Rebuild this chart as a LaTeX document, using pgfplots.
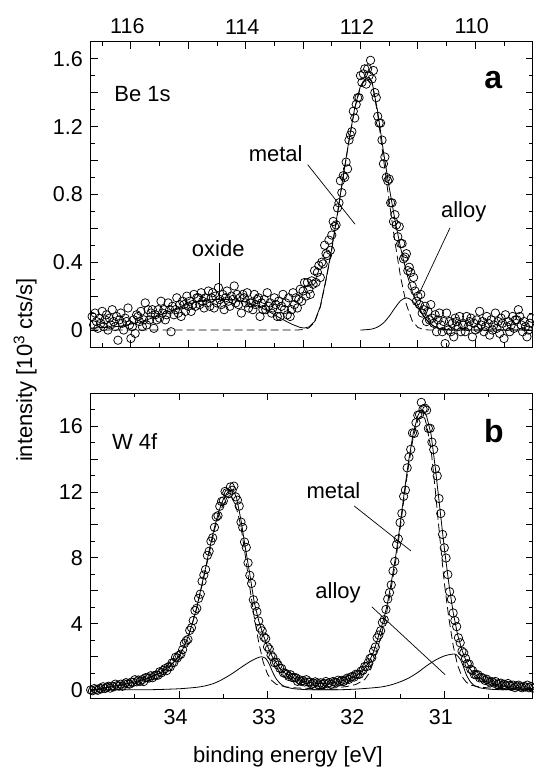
\documentclass[border=0pt]{standalone}
\usepackage{pgfplots}
\pgfplotsset{compat=1.18}
\usepackage{fontspec}
\setmainfont{Liberation Sans}
\begin{document}
\begin{tikzpicture}
\pgfplotsset{
  myax/.style={
    scale only axis, width=442pt,
    axis line style={line width=0.9pt},
    tick style={line width=0.8pt, black},
    major tick length=7pt, minor tick length=4pt,
    tick align=inside,
    xtick pos=both, ytick pos=both,
    tick label style={font=\fontsize{21.5}{24}\selectfont},
    /pgf/number format/assume math mode=true,
    clip=false,
    x dir=reverse,
    yticklabel style={xshift=-4.4pt},
  },
  pts/.style={only marks, mark=o, mark size=4.2pt, mark options={line width=0.75pt, black}},
  fitsolid/.style={black, line width=0.8pt, no marks},
  fitdash/.style={black, line width=0.8pt, no marks, dash pattern=on 8pt off 4pt},
}
% ---------------- top panel -----------------
\begin{axis}[myax, at={(90.7pt,424pt)}, anchor=south west, height=305.3pt,
  xmin=109, xmax=116.7, ymin=-0.1, ymax=1.7,
  xtick={109,110,111,112,113,114,115,116}, xticklabels={,110,,112,,114,,116},
  minor xtick={109.5,110.5,111.5,112.5,113.5,114.5,115.5,116.5},
  xticklabel pos=right, xticklabel style={yshift=4pt, xshift=-3.5pt},
  ytick={0,0.2,0.4,0.6,0.8,1,1.2,1.4,1.6}, yticklabels={0,,0.4,,0.8,,1.2,,1.6},
  minor ytick={0.1,0.3,0.5,0.7,0.9,1.1,1.3,1.5},
]
\addplot[pts] coordinates {
(116.675,0.08)(116.650,0.03)(116.625,0.10)(116.600,0.05)(116.575,0.01)(116.550,0.07)(116.525,0.04)(116.500,0.11)
(116.475,0.02)(116.450,0.06)(116.425,0.09)(116.400,0.00)(116.375,0.07)(116.350,0.03)(116.325,0.12)(116.300,0.05)
(116.275,0.02)(116.250,0.08)(116.225,-0.06)(116.200,0.06)(116.175,0.10)(116.150,0.04)(116.125,0.00)(116.100,0.07)
(116.075,0.05)(116.050,0.13)(116.025,0.03)(116.000,-0.05)(115.975,0.02)(115.950,0.06)(115.925,-0.02)(115.900,0.09)
(115.875,0.08)(115.850,0.05)(115.825,0.11)(115.800,0.02)(115.775,0.06)(115.750,0.16)(115.725,0.03)(115.700,0.12)
(115.675,0.06)(115.650,0.10)(115.625,0.12)(115.600,0.01)(115.575,0.09)(115.550,0.06)(115.525,0.12)(115.500,0.07)
(115.475,0.17)(115.450,0.10)(115.425,0.12)(115.400,0.06)(115.375,0.09)(115.350,0.16)(115.325,0.12)(115.300,-0.01)
(115.275,0.14)(115.250,0.09)(115.225,0.12)(115.200,0.19)(115.175,0.10)(115.150,0.15)(115.125,0.08)(115.100,0.17)
(115.075,0.15)(115.050,0.11)(115.025,0.20)(115.000,0.14)(114.975,0.17)(114.950,0.11)(114.925,0.15)(114.900,0.21)
(114.875,0.14)(114.850,0.19)(114.825,0.19)(114.800,0.15)(114.775,0.22)(114.750,0.17)(114.725,0.13)(114.700,0.19)
(114.675,0.16)(114.650,0.23)(114.625,0.14)(114.600,0.19)(114.575,0.22)(114.550,0.13)(114.525,0.20)(114.500,0.16)
(114.475,0.25)(114.450,0.18)(114.425,0.15)(114.400,0.21)(114.375,0.12)(114.350,0.19)(114.325,0.23)(114.300,0.17)
(114.275,0.14)(114.250,0.20)(114.225,0.18)(114.200,0.26)(114.175,0.16)(114.150,0.21)(114.125,0.15)(114.100,0.19)
(114.075,0.10)(114.050,0.21)(114.025,0.19)(114.000,0.16)(113.975,0.22)(113.950,0.13)(113.925,0.16)(113.900,0.16)
(113.875,0.12)(113.850,0.21)(113.825,0.15)(113.800,0.18)(113.775,0.19)(113.750,0.08)(113.725,0.16)(113.700,0.12)
(113.675,0.18)(113.650,0.12)(113.625,0.22)(113.600,0.14)(113.575,0.16)(113.550,0.10)(113.525,0.13)(113.500,0.19)
(113.475,0.15)(113.450,0.08)(113.425,0.17)(113.400,0.08)(113.375,0.14)(113.350,0.21)(113.325,0.12)(113.300,0.16)
(113.275,0.09)(113.250,0.19)(113.225,0.08)(113.200,0.12)(113.175,0.22)(113.150,0.15)(113.125,0.19)(113.100,0.13)
(113.075,0.18)(113.050,0.24)(113.025,0.17)(113.000,0.23)(112.975,0.28)(112.950,0.20)(112.925,0.28)(112.900,0.24)
(112.875,0.21)(112.850,0.29)(112.825,0.27)(112.800,0.35)(112.775,0.28)(112.750,0.34)(112.725,0.38)(112.700,0.31)
(112.675,0.40)(112.650,0.39)(112.625,0.50)(112.600,0.45)(112.575,0.44)(112.550,0.53)(112.525,0.47)(112.500,0.56)
(112.475,0.64)(112.450,0.61)(112.425,0.62)(112.400,0.72)(112.375,0.75)(112.350,0.88)(112.325,0.81)(112.300,0.91)
(112.275,0.90)(112.250,0.99)(112.225,0.95)(112.200,1.12)(112.175,1.15)(112.150,1.17)(112.125,1.29)(112.100,1.25)
(112.075,1.33)(112.050,1.37)(112.025,1.37)(112.000,1.50)(111.975,1.46)(111.950,1.51)(111.925,1.54)(111.900,1.45)
(111.875,1.54)(111.850,1.50)(111.825,1.59)(111.800,1.48)(111.775,1.53)(111.750,1.40)(111.725,1.37)(111.700,1.26)
(111.675,1.22)(111.650,1.22)(111.625,1.12)(111.600,0.98)(111.575,1.02)(111.550,0.90)(111.525,0.88)(111.500,0.89)
(111.475,0.75)(111.450,0.75)(111.425,0.64)(111.400,0.68)(111.375,0.62)(111.350,0.55)(111.325,0.61)(111.300,0.51)
(111.275,0.51)(111.250,0.42)(111.225,0.43)(111.200,0.45)(111.175,0.35)(111.150,0.37)(111.125,0.34)(111.100,0.26)
(111.075,0.31)(111.050,0.23)(111.025,0.17)(111.000,0.20)(110.975,0.15)(110.950,0.21)(110.925,0.10)(110.900,0.12)
(110.875,0.14)(110.850,0.05)(110.825,0.11)(110.800,0.06)(110.775,0.15)(110.750,0.07)(110.725,0.04)(110.700,0.09)
(110.675,-0.01)(110.650,0.06)(110.625,0.10)(110.600,0.03)(110.575,-0.01)(110.550,0.05)(110.525,-0.08)(110.500,0.10)
(110.475,0.00)(110.450,0.05)(110.425,-0.01)(110.400,0.04)(110.375,-0.04)(110.350,0.07)(110.325,0.05)(110.300,0.02)
(110.275,0.08)(110.250,-0.01)(110.225,0.03)(110.200,0.03)(110.175,-0.01)(110.150,0.08)(110.125,0.02)(110.100,0.05)
(110.075,0.07)(110.050,-0.04)(110.025,0.04)(110.000,0.00)(109.975,0.06)(109.950,0.01)(109.925,0.11)(109.900,0.03)
(109.875,0.05)(109.850,-0.01)(109.825,0.02)(109.800,0.08)(109.775,0.04)(109.750,-0.03)(109.725,0.06)(109.700,0.00)
(109.675,0.03)(109.650,0.10)(109.625,0.01)(109.600,0.05)(109.575,-0.02)(109.550,0.07)(109.525,0.04)(109.500,-0.05)
(109.475,0.09)(109.450,0.02)(109.425,0.05)(109.400,-0.01)(109.375,0.03)(109.350,0.08)(109.325,0.01)(109.300,0.06)
(109.275,0.06)(109.250,0.12)(109.225,0.08)(109.200,0.03)(109.175,-0.01)(109.150,0.05)(109.125,0.02)(109.100,-0.04)
(109.075,0.00)(109.050,0.04)(109.025,0.07)
};
% metal component (dashed, incl. zero baseline)
\addplot[fitdash] coordinates {
(116.7,0)(113.1,0)(113.0,0.003)(112.9,0.012)(112.8,0.045)(112.7,0.135)(112.6,0.295)(112.5,0.475)(112.4,0.685)
(112.3,0.905)(112.2,1.115)(112.1,1.305)(112.0,1.435)(111.9,1.483)(111.85,1.485)(111.8,1.46)(111.7,1.27)(111.6,1.01)
(111.5,0.76)(111.4,0.52)(111.3,0.31)(111.2,0.15)(111.1,0.055)(111.0,0.015)(110.9,0.003)(110.8,0)(109.0,0)
};
% total fit incl. oxide (solid)
\addplot[fitsolid] coordinates {
(116.7,0.012)(116.4,0.016)(116.2,0.022)(116.0,0.035)(115.8,0.052)(115.6,0.074)(115.4,0.100)(115.2,0.128)
(115.0,0.153)(114.8,0.170)(114.6,0.179)(114.45,0.181)(114.3,0.180)(114.15,0.175)(114.0,0.166)(113.8,0.143)
(113.6,0.110)(113.4,0.070)(113.2,0.035)(113.05,0.015)(112.98,0.012)(112.9,0.018)(112.8,0.05)(112.7,0.14)
(112.6,0.30)(112.5,0.48)(112.4,0.69)(112.3,0.91)(112.2,1.12)(112.1,1.31)(112.0,1.44)(111.9,1.485)(111.85,1.49)
(111.8,1.466)(111.7,1.288)(111.6,1.052)(111.5,0.841)(111.4,0.65)(111.3,0.483)(111.2,0.34)(111.1,0.228)
(111.0,0.145)(110.9,0.084)(110.8,0.042)(110.7,0.018)(110.6,0.006)(110.5,0.002)(110.4,0)(109.0,0)
};
% alloy component
\addplot[fitsolid, smooth] coordinates {
(112.0,0)(111.9,0.002)(111.8,0.006)(111.7,0.018)(111.6,0.042)(111.5,0.081)(111.4,0.13)(111.3,0.173)(111.2,0.19)
(111.1,0.173)(111.0,0.13)(110.9,0.081)(110.8,0.042)(110.7,0.018)(110.6,0.006)(110.5,0.002)(110.4,0)
};
\draw[line width=0.7pt] (axis cs:112.92,0.975) -- (axis cs:112.095,0.624);
\draw[line width=0.7pt] (axis cs:114.46,0.394) -- (axis cs:114.46,0.177);
\draw[line width=0.7pt] (axis cs:110.44,0.603) -- (axis cs:110.98,0.213);
\node[anchor=base west, font=\fontsize{22}{26}\selectfont, inner sep=0pt] at (axis cs:113.95,0.991) {metal};
\node[anchor=base west, font=\fontsize{22}{26}\selectfont, inner sep=0pt] at (axis cs:114.94,0.433) {oxide};
\node[anchor=base west, font=\fontsize{22}{26}\selectfont, inner sep=0pt] at (axis cs:110.60,0.666) {alloy};
\node[anchor=base west, font=\fontsize{22}{26}\selectfont, inner sep=0pt] at (axis cs:116.29,1.349) {Be 1s};
\node[anchor=base east, font=\fontsize{32}{36}\selectfont\bfseries, inner sep=0pt] at (axis cs:109.53,1.423) {a};
\end{axis}
% ---------------- bottom panel -----------------
\begin{axis}[myax, at={(90.7pt,73pt)}, anchor=south west, height=305pt,
  xmin=30, xmax=35, ymin=-0.5, ymax=18,
  xtick={31,32,33,34}, minor xtick={30.5,31.5,32.5,33.5,34.5},
  xticklabel style={yshift=-8pt, xshift=-3.5pt},
  ytick={0,2,4,6,8,10,12,14,16}, yticklabels={0,,4,,8,,12,,16},
  minor ytick={1,3,5,7,9,11,13,15,17},
]
\addplot[pts] coordinates {
(35.00,-0.01)(34.98,-0.06)(34.96,0.07)(34.94,0.01)(34.92,-0.03)(34.90,0.08)(34.88,0.06)(34.86,0.18)(34.84,0.07)
(34.82,0.15)(34.80,0.21)(34.78,0.10)(34.76,0.22)(34.74,0.18)(34.72,0.34)(34.70,0.25)(34.68,0.22)(34.66,0.34)
(34.64,0.21)(34.62,0.35)(34.60,0.43)(34.58,0.36)(34.56,0.34)(34.54,0.46)(34.52,0.45)(34.50,0.61)(34.48,0.48)
(34.46,0.59)(34.44,0.51)(34.42,0.61)(34.40,0.50)(34.38,0.73)(34.36,0.73)(34.34,0.71)(34.32,0.85)(34.30,0.73)
(34.28,0.85)(34.26,0.90)(34.24,0.88)(34.22,1.09)(34.20,1.03)(34.18,1.17)(34.16,1.28)(34.14,1.16)(34.12,1.39)
(34.10,1.39)(34.08,1.63)(34.06,1.65)(34.04,1.97)(34.02,1.93)(34.00,2.09)(33.98,2.16)(33.96,2.43)(33.94,2.80)
(33.92,2.96)(33.90,3.05)(33.88,3.60)(33.86,3.76)(33.84,4.20)(33.82,4.80)(33.80,4.94)(33.78,5.54)(33.76,5.80)
(33.74,6.58)(33.72,6.96)(33.70,7.29)(33.68,8.15)(33.66,8.40)(33.64,9.01)(33.62,9.22)(33.60,9.85)(33.58,10.48)
(33.56,10.56)(33.54,11.13)(33.52,11.42)(33.50,11.45)(33.48,12.03)(33.46,11.95)(33.44,11.90)(33.42,12.30)
(33.40,12.10)(33.38,12.35)(33.36,11.70)(33.34,11.50)(33.32,11.14)(33.30,10.17)(33.28,9.84)(33.26,8.96)
(33.24,8.63)(33.22,7.70)(33.20,6.94)(33.18,6.45)(33.16,5.46)(33.14,5.08)(33.12,4.74)(33.10,4.17)(33.08,3.74)
(33.06,3.57)(33.04,3.20)(33.02,3.11)(33.00,2.60)(32.98,2.47)(32.96,2.10)(32.94,1.98)(32.92,1.64)(32.90,1.68)
(32.88,1.50)(32.86,1.30)(32.84,1.29)(32.82,1.03)(32.80,1.00)(32.78,0.94)(32.76,0.81)(32.74,0.91)(32.72,0.74)
(32.70,0.73)(32.68,0.73)(32.66,0.51)(32.64,0.61)(32.62,0.51)(32.60,0.57)(32.58,0.47)(32.56,0.61)(32.54,0.46)
(32.52,0.47)(32.50,0.35)(32.48,0.39)(32.46,0.48)(32.44,0.41)(32.42,0.28)(32.40,0.42)(32.38,0.33)(32.36,0.38)
(32.34,0.50)(32.32,0.36)(32.30,0.43)(32.28,0.33)(32.26,0.50)(32.24,0.46)(32.22,0.42)(32.20,0.58)(32.18,0.49)
(32.16,0.57)(32.14,0.50)(32.12,0.59)(32.10,0.70)(32.08,0.63)(32.06,0.76)(32.04,0.81)(32.02,0.77)(32.00,0.94)
(31.98,0.93)(31.96,0.94)(31.94,1.14)(31.92,1.18)(31.90,1.41)(31.88,1.40)(31.86,1.64)(31.84,1.90)(31.82,1.95)
(31.80,2.34)(31.78,2.59)(31.76,3.15)(31.74,3.32)(31.72,3.58)(31.70,4.08)(31.68,4.25)(31.66,4.87)(31.64,5.50)
(31.62,5.89)(31.60,6.36)(31.58,7.21)(31.56,7.78)(31.54,8.80)(31.52,9.15)(31.50,10.14)(31.48,10.70)(31.46,11.73)
(31.44,12.11)(31.42,13.46)(31.40,14.11)(31.38,14.58)(31.36,15.58)(31.34,15.55)(31.32,16.20)(31.30,16.65)
(31.28,16.69)(31.26,17.43)(31.24,17.03)(31.22,17.08)(31.20,16.96)(31.18,15.85)(31.16,15.86)(31.14,15.02)
(31.12,14.57)(31.10,13.39)(31.08,12.97)(31.06,11.60)(31.04,10.69)(31.02,9.42)(31.00,8.61)(30.98,7.99)(30.96,6.99)
(30.94,5.95)(30.92,5.49)(30.90,4.66)(30.88,4.20)(30.86,3.83)(30.84,3.15)(30.82,2.85)(30.80,2.34)(30.78,2.24)
(30.76,1.90)(30.74,1.58)(30.72,1.56)(30.70,1.24)(30.68,1.16)(30.66,0.93)(30.64,0.90)(30.62,0.91)(30.60,0.72)
(30.58,0.75)(30.56,0.70)(30.54,0.57)(30.52,0.64)(30.50,0.52)(30.48,0.42)(30.46,0.49)(30.44,0.41)(30.42,0.50)
(30.40,0.33)(30.38,0.38)(30.36,0.40)(30.34,0.24)(30.32,0.33)(30.30,0.25)(30.28,0.38)(30.26,0.26)(30.24,0.20)
(30.22,0.28)(30.20,0.13)(30.18,0.23)(30.16,0.28)(30.14,0.17)(30.12,0.12)(30.10,0.20)(30.08,0.17)(30.06,0.28)
(30.04,0.12)(30.02,0.20)(30.00,0.10)
};
% alloy components (solid)
\addplot[fitsolid, smooth] coordinates {
(35.0,0)(34.4,0)(34.2,0.02)(34.0,0.06)(33.9,0.10)(33.8,0.15)(33.7,0.24)(33.6,0.40)(33.5,0.66)(33.4,0.98)
(33.3,1.35)(33.2,1.70)(33.12,1.92)(33.07,2.0)(33.02,1.9)(32.98,1.55)(32.94,1.05)(32.9,0.65)(32.85,0.35)
(32.8,0.18)(32.7,0.06)(32.6,0.02)(32.5,0)(32.2,0)
};
\addplot[fitsolid, smooth] coordinates {
(32.5,0)(32.2,0)(32.0,0.04)(31.8,0.12)(31.7,0.18)(31.6,0.30)(31.5,0.48)(31.4,0.72)(31.3,1.05)(31.2,1.45)
(31.1,1.80)(31.0,2.05)(30.92,2.15)(30.87,2.15)(30.82,1.85)(30.78,1.35)(30.75,0.9)(30.7,0.45)(30.65,0.22)
(30.6,0.12)(30.5,0.04)(30.4,0.01)(30.3,0)(30.0,0)
};
% metal components (dashed)
\addplot[fitdash] coordinates {
(35.0,-0.05)(34.8,0.15)(34.6,0.35)(34.4,0.62)(34.2,1.05)(34.1,1.45)(34.0,2.0)(33.9,3.15)(33.8,4.95)(33.7,7.3)
(33.6,9.7)(33.55,10.6)(33.5,11.25)(33.45,11.6)(33.42,11.7)(33.4,11.65)(33.35,11.0)(33.3,9.9)(33.25,8.1)
(33.2,6.2)(33.15,4.4)(33.1,2.9)(33.05,1.7)(33.0,0.95)(32.95,0.55)(32.9,0.33)(32.8,0.18)(32.7,0.12)(32.6,0.09)
(32.5,0.08)(32.4,0.08)(32.3,0.09)(32.2,0.13)(32.1,0.2)(32.0,0.32)(31.9,0.62)(31.85,1.0)(31.8,1.7)(31.75,2.6)
(31.7,3.6)(31.65,4.75)(31.6,6.2)(31.55,7.8)(31.5,9.75)(31.45,11.85)(31.4,13.75)(31.35,15.35)(31.3,16.35)
(31.26,16.65)(31.22,16.45)(31.2,16.05)(31.15,14.6)(31.1,12.0)(31.05,9.2)(31.0,6.5)(30.95,4.4)(30.9,2.7)
(30.85,1.5)(30.8,0.8)(30.75,0.45)(30.7,0.28)(30.6,0.17)(30.5,0.11)(30.4,0.08)(30.2,0.05)(30.0,0.04)
};
% total fit (solid)
\addplot[fitsolid] coordinates {
(35.0,-0.05)(34.9,0.05)(34.8,0.15)(34.7,0.25)(34.6,0.35)(34.5,0.48)(34.4,0.62)(34.3,0.8)(34.2,1.05)(34.1,1.45)
(34.0,2.05)(33.95,2.55)(33.9,3.2)(33.85,4.0)(33.8,5.0)(33.75,6.2)(33.7,7.4)(33.65,8.7)(33.6,9.85)(33.55,10.85)
(33.5,11.55)(33.45,12.0)(33.42,12.1)(33.38,12.0)(33.35,11.65)(33.3,10.3)(33.25,8.6)(33.2,7.0)(33.15,5.3)
(33.1,4.2)(33.05,3.35)(33.0,2.65)(32.95,2.05)(32.9,1.6)(32.85,1.25)(32.8,1.0)(32.7,0.7)(32.6,0.52)(32.5,0.42)
(32.4,0.37)(32.3,0.4)(32.2,0.48)(32.1,0.62)(32.0,0.85)(31.95,1.05)(31.9,1.3)(31.85,1.7)(31.8,2.3)(31.75,3.15)
(31.7,4.0)(31.65,5.05)(31.6,6.5)(31.55,8.1)(31.5,10.0)(31.45,12.1)(31.4,14.0)(31.35,15.6)(31.3,16.6)
(31.27,16.95)(31.24,16.95)(31.2,16.6)(31.15,15.5)(31.1,13.4)(31.05,11.0)(31.0,8.6)(30.95,6.5)(30.9,4.7)
(30.85,3.35)(30.8,2.4)(30.75,1.7)(30.7,1.2)(30.65,0.9)(30.6,0.7)(30.5,0.45)(30.4,0.3)(30.3,0.2)(30.2,0.15)
(30.1,0.1)(30.0,0.08)
};
\draw[line width=0.7pt] (axis cs:32.02,11.15) -- (axis cs:31.377,8.42);
\draw[line width=0.7pt] (axis cs:31.82,5.03) -- (axis cs:30.99,0.91);
\node[anchor=base west, font=\fontsize{22}{26}\selectfont, inner sep=0pt] at (axis cs:32.56,11.62) {metal};
\node[anchor=base west, font=\fontsize{22}{26}\selectfont, inner sep=0pt] at (axis cs:32.46,5.52) {alloy};
\node[anchor=base west, font=\fontsize{22}{26}\selectfont, inner sep=0pt] at (axis cs:34.76,14.55) {W 4f};
\node[anchor=base east, font=\fontsize{32}{36}\selectfont\bfseries, inner sep=0pt] at (axis cs:30.325,14.99) {b};
\end{axis}
\node[rotate=90, anchor=base, inner sep=0pt, font=\fontsize{22}{26}\selectfont] at (32pt,401pt) {intensity [10\textsuperscript{3} cts/s]};
\node[anchor=base, inner sep=0pt, font=\fontsize{22}{26}\selectfont] at (288pt,9pt) {binding energy [eV]};
\pgfresetboundingbox
\path[use as bounding box] (0pt,0pt) rectangle (534pt,771pt);
\end{tikzpicture}
\end{document}
